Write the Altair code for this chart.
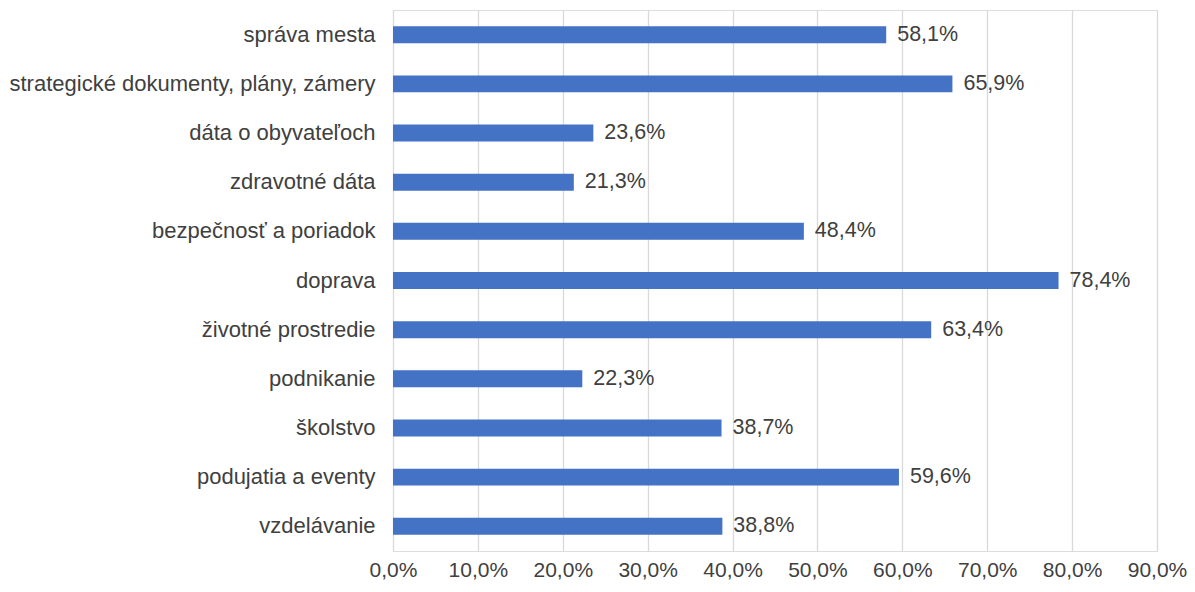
import altair as alt
import pandas as pd

categories = [
    "správa mesta",
    "strategické dokumenty, plány, zámery",
    "dáta o obyvateľoch",
    "zdravotné dáta",
    "bezpečnosť a poriadok",
    "doprava",
    "životné prostredie",
    "podnikanie",
    "školstvo",
    "podujatia a eventy",
    "vzdelávanie",
]
values = [58.1, 65.9, 23.6, 21.3, 48.4, 78.4, 63.4, 22.3, 38.7, 59.6, 38.8]

df = pd.DataFrame({
    "cat": categories,
    "val": [v / 100 for v in values],
    "label": [f"{v:.1f}%".replace(".", ",") for v in values],
})

FONT = "Liberation Sans"
TXT = "#404040"

base = alt.Chart(df).encode(
    y=alt.Y("cat:N", sort=categories, title=None,
            scale=alt.Scale(paddingInner=0.655, paddingOuter=0.33),
            axis=alt.Axis(domain=False, ticks=False, labelFont=FONT, labelFontSize=22,
                          labelColor=TXT, labelPadding=18, labelLimit=420, grid=False)),
)

bars = base.mark_bar(color="#4472C4").encode(
    x=alt.X("val:Q", title=None,
            scale=alt.Scale(domain=[0, 0.9], nice=False),
            axis=alt.Axis(values=[i / 10 for i in range(10)],
                          labelExpr=r"replace(format(datum.value, '.1%'), /\./, ',')",
                          domain=False, ticks=False, grid=True, gridColor="#d9d9d9",
                          gridWidth=1.3, labelFont=FONT, labelFontSize=21,
                          labelColor=TXT, labelPadding=8, labelFlush=False)),
)

text = base.mark_text(align="left", baseline="middle", dx=11, font=FONT,
                      fontSize=21.5, color=TXT).encode(
    x="val:Q",
    text="label:N",
)

chart = (bars + text).properties(
    width=764, height=541,
    autosize=alt.AutoSizeParams(type="none"),
    padding={"left": 385, "top": 2, "right": 30, "bottom": 33},
).configure_view(stroke=None).configure(background="white")

chart.save("out.html", embed_options={"renderer": "svg", "actions": False})
